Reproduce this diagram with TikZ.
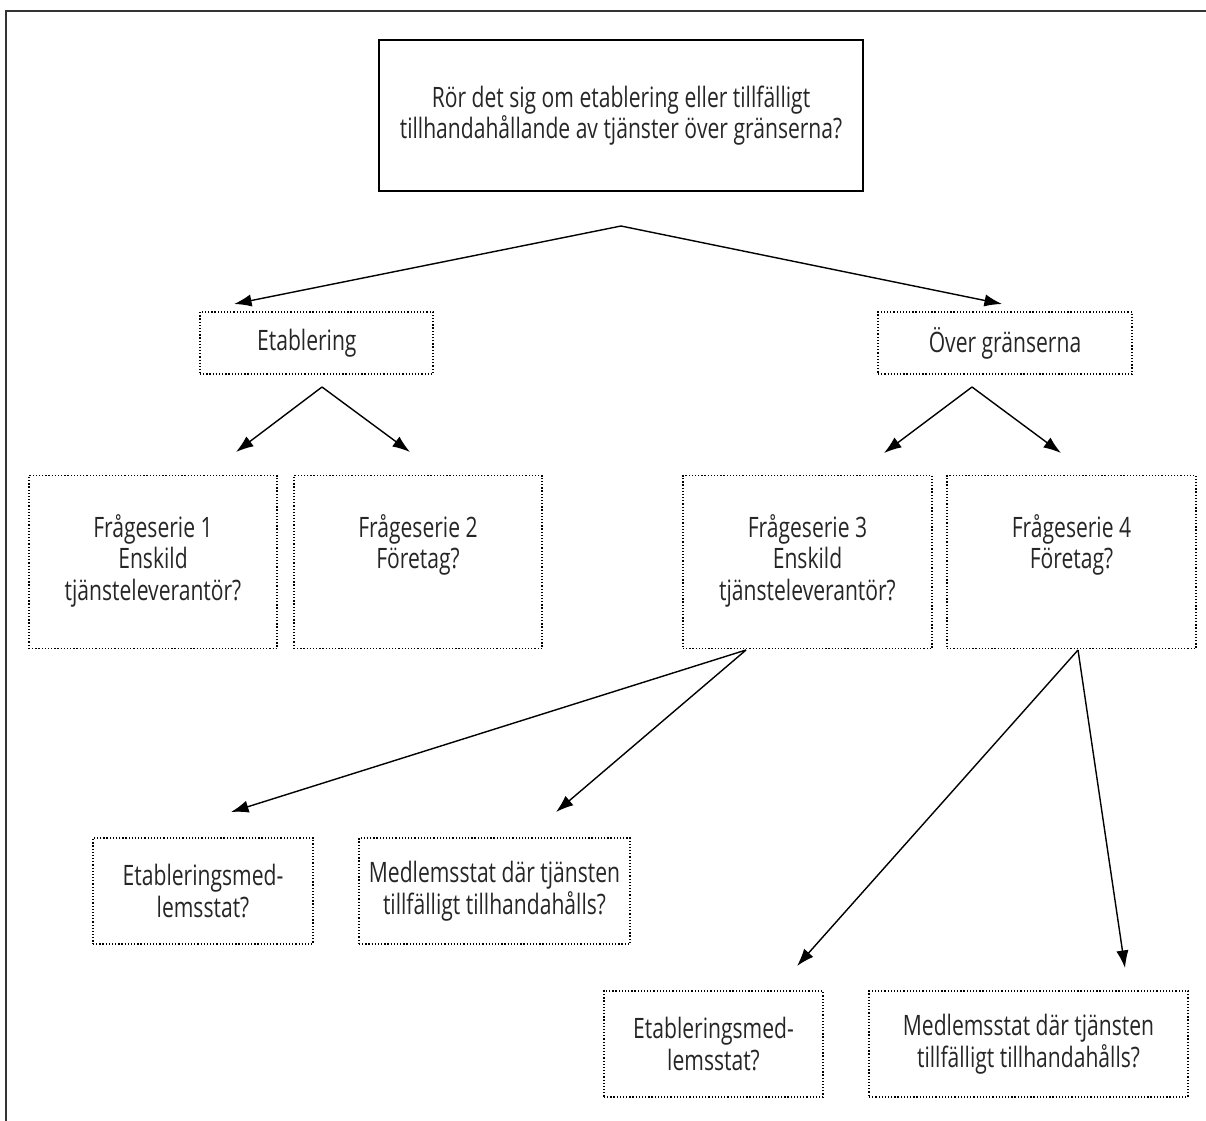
\documentclass[tikz,border=0pt]{standalone}
\usepackage{fontspec}
\setmainfont[FakeStretch=0.75]{Open Sans}
\usetikzlibrary{arrows.meta}

\tikzset{
  boxsize/.style 2 args={minimum width={#1*0.02cm}, minimum height={#2*0.02cm}},
  mainbox/.style={draw, line width=0.8pt, align=center, inner sep=0pt,
    font=\fontsize{16}{16}\selectfont},
  dotbox/.style={draw, line width=0.7pt, dash pattern=on 0.7pt off 1.1pt, align=center, inner sep=0pt},
  branch/.style={line width=0.8pt, -{Latex[length=10pt,width=7pt]}},
}

\begin{document}
\begin{tikzpicture}[x=0.02cm, y=-0.02cm, font=\fontsize{16}{18}\selectfont, text=black!85]
  % Boundary
  \useasboundingbox (0,0) rectangle (1206,1120);
  \draw[line width=1.1pt, black!80] (6,11) rectangle (1240,1160);
  % Question
  \node[mainbox, boxsize={484}{151}] (fraga) at (621,115.5)
    {Rör det sig om etablering eller tillfälligt\\tillhandahållande av tjänster över gränserna?};
  % Level 1
  \node[dotbox, boxsize={233}{62}] (etab) at (316.5,343) {\hspace*{-11pt}Etablering};
  \node[dotbox, boxsize={254}{62}] (over) at (1005,343) {Över gränserna};
  % Level 2
  \node[dotbox, boxsize={248}{173}] (serie1) at (153,562)
    {Frågeserie 1\\Enskild\\tjänsteleverantör?\strut};
  \node[dotbox, boxsize={248}{173}] (serie2) at (418,562)
    {Frågeserie 2\\Företag?\\\strut};
  \node[dotbox, boxsize={249}{173}] (serie3) at (807.5,562)
    {Frågeserie 3\\Enskild\\tjänsteleverantör?\strut};
  \node[dotbox, boxsize={249}{173}] (serie4) at (1071.5,562)
    {Frågeserie 4\\Företag?\\\strut};
  % Level 3
  \node[dotbox, boxsize={220}{106}] (medstat1) at (203,891) {Etableringsmed-\\lemsstat?};
  \node[dotbox, boxsize={271}{106}] (tillf1) at (494.5,891) {Medlemsstat där tjänsten\\tillfälligt tillhandahålls?};
  \node[dotbox, boxsize={219}{106}] (medstat2) at (713.5,1044) {Etableringsmed-\\lemsstat?};
  \node[dotbox, boxsize={319}{106}] (tillf2) at (1028.5,1044) {Medlemsstat där tjänsten\\tillfälligt tillhandahålls?};
  % Branch points
  \coordinate (top0) at (621,226);
  \coordinate (top1) at (322,387);
  \coordinate (top2) at (972,387);
  \coordinate (top3) at (746,650);
  \coordinate (top4) at (1078,650);
  % Arrow ends
  \coordinate (tip01) at (234,304);
  \coordinate (tip02) at (1002,304);
  \coordinate (tip11) at (236,452);
  \coordinate (tip12) at (410,452);
  \coordinate (tip21) at (884,453);
  \coordinate (tip22) at (1061,453);
  \coordinate (tip31) at (231,812);
  \coordinate (tip32) at (556,812);
  \coordinate (tip41) at (797,966);
  \coordinate (tip42) at (1125,968);
  % Arrows
  \draw[branch] (top0) -- (tip01);
  \draw[branch] (top0) -- (tip02);
  \draw[branch] (top1) -- (tip11);
  \draw[branch] (top1) -- (tip12);
  \draw[branch] (top2) -- (tip21);
  \draw[branch] (top2) -- (tip22);
  \draw[branch] (top3) -- (tip31);
  \draw[branch] (top3) -- (tip32);
  \draw[branch] (top4) -- (tip41);
  \draw[branch] (top4) -- (tip42);
\end{tikzpicture}
\end{document}
